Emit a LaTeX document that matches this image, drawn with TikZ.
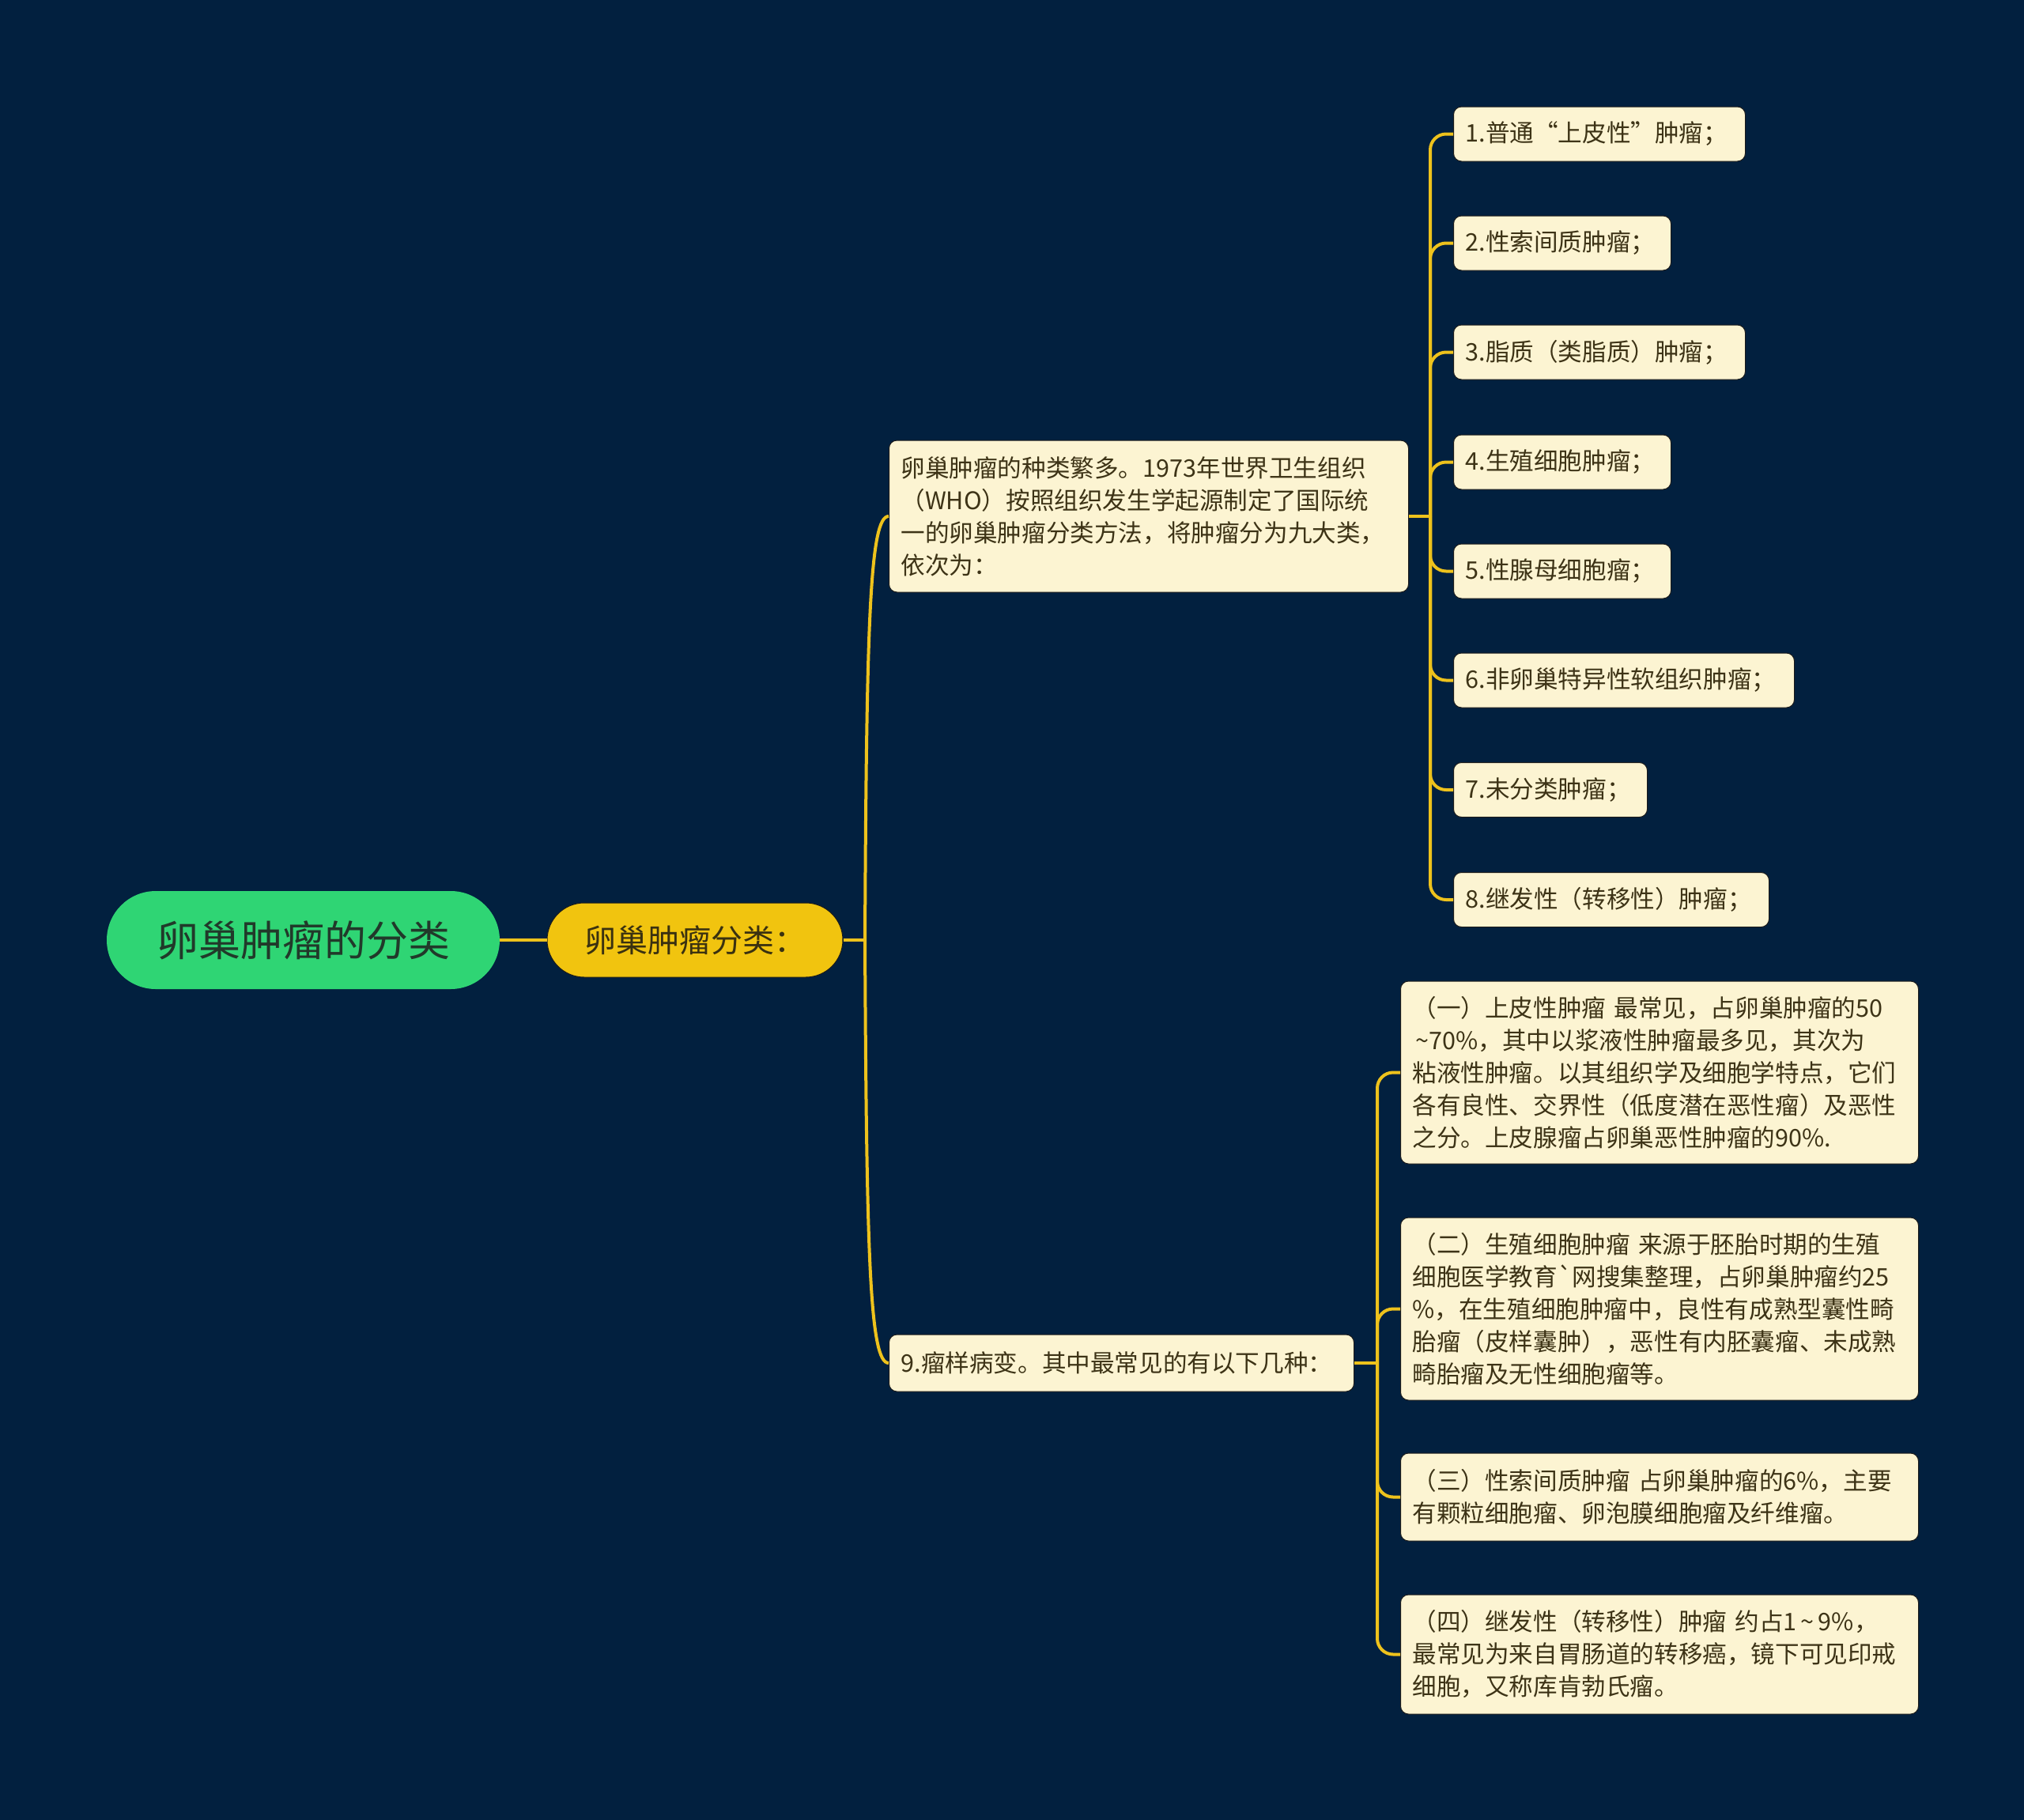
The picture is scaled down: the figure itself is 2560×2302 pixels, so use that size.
\documentclass[tikz,border=0pt]{standalone}
\usepackage{fontspec}
\setmainfont{Noto Sans CJK SC}
\newfontfamily\plainfont{Noto Sans CJK SC}
\definecolor{bg}{HTML}{02203F}
\definecolor{rootgreen}{HTML}{2FD574}
\definecolor{midyellow}{HTML}{F1C40F}
\definecolor{linecol}{HTML}{EEC21C}
\definecolor{cream}{HTML}{FCF4D2}
\definecolor{boxtext}{HTML}{3D3316}
\definecolor{roottext}{HTML}{21392A}
\definecolor{midtext}{HTML}{3A3110}
\definecolor{boxedge}{HTML}{1A1A1A}
\begin{document}
\begin{tikzpicture}[x=0.5pt,y=-0.5pt,
  conn/.style={draw=linecol,line width=2pt,rounded corners=10pt},
  rootnode/.style={fill=rootgreen,rounded corners=31pt,minimum width=248.5pt,minimum height=62pt,
    text=roottext,font=\fontsize{26.5}{30}\selectfont,inner sep=0pt},
  midnode/.style={fill=midyellow,rounded corners=23.5pt,minimum width=187pt,minimum height=47pt,
    draw=boxedge,line width=0.5pt,text=midtext,font=\fontsize{20}{24}\selectfont,inner sep=0pt},
  infobox/.style={fill=cream,draw=boxedge,line width=0.5pt,rounded corners=5pt,anchor=west,
    text=boxtext,font=\fontsize{15.3}{20.5}\selectfont,align=left,inner xsep=7.5pt,inner ysep=0pt}
]
\fill[bg] (0,0) rectangle (2560,2302);
\useasboundingbox (0,0) rectangle (2560,2302);

% main nodes
\node[rootnode] (root) at (383.5,1189) {卵巢肿瘤的分类};
\node[midnode] (mid) at (879,1189) {卵巢肿瘤分类：};

% level 2
\node[infobox,text width=313.5pt,minimum height=96pt] (a) at (1124,653)
  {卵巢肿瘤的种类繁多。1973年世界卫生组织\\（WHO）按照组织发生学起源制定了国际统\\一的卵巢肿瘤分类方法，将肿瘤分为九大类，\\依次为：};
\node[infobox,text width=279pt,minimum height=36pt] (n9) at (1124,1724)
  {9.瘤样病变。其中最常见的有以下几种：};

% leaves of a
\node[infobox,text width=169.5pt,minimum height=34.5pt] (l1) at (1838,169.5) {1.普通“上皮性”肿瘤；};
\node[infobox,text width=122.5pt,minimum height=34.5pt] (l2) at (1838,307.5) {2.性索间质肿瘤；};
\node[infobox,text width=169.5pt,minimum height=34.5pt] (l3) at (1838,445.5) {3.脂质（类脂质）肿瘤；};
\node[infobox,text width=122.5pt,minimum height=34.5pt] (l4) at (1838,584.5) {4.生殖细胞肿瘤；};
\node[infobox,text width=122.5pt,minimum height=34.5pt] (l5) at (1838,722.5) {5.性腺母细胞瘤；};
\node[infobox,text width=200.5pt,minimum height=34.5pt] (l6) at (1838,860.5) {6.非卵巢特异性软组织肿瘤；};
\node[infobox,text width=107.5pt,minimum height=34.5pt] (l7) at (1838,999) {7.未分类肿瘤；};
\node[infobox,text width=184.5pt,minimum height=34.5pt] (l8) at (1838,1138) {8.继发性（转移性）肿瘤；};

% leaves of 9
\node[infobox,text width=312.5pt,minimum height=115.5pt] (s1) at (1771,1356.5)
  {（一）上皮性肿瘤 最常见，占卵巢肿瘤的50\\\hspace{2pt}\textasciitilde 70\%，其中以浆液性肿瘤最多见，其次为\\粘液性肿瘤。以其组织学及细胞学特点，它们\\各有良性、交界性（低度潜在恶性瘤）及恶性\\之分。上皮腺瘤占卵巢恶性肿瘤的90\%.};
\node[infobox,text width=312.5pt,minimum height=115.5pt] (s2) at (1771,1655.5)
  {（二）生殖细胞肿瘤 来源于胚胎时期的生殖\\细胞医学教育{\plainfont\symbol{96}}网搜集整理，占卵巢肿瘤约25\\\%，在生殖细胞肿瘤中，良性有成熟型囊性畸\\胎瘤（皮样囊肿），恶性有内胚囊瘤、未成熟\\畸胎瘤及无性细胞瘤等。};
\node[infobox,text width=312.5pt,minimum height=55.5pt] (s3) at (1771,1893.5)
  {（三）性索间质肿瘤 占卵巢肿瘤的6\%，主要\\有颗粒细胞瘤、卵泡膜细胞瘤及纤维瘤。};
\node[infobox,text width=312.5pt,minimum height=75.5pt] (s4) at (1771,2092.5)
  {（四）继发性（转移性）肿瘤 约占1\,\textasciitilde\,9\%，\\最常见为来自胃肠道的转移癌，镜下可见印戒\\细胞，又称库肯勃氏瘤。};

% connectors
\coordinate (j) at (1094,1189);
\coordinate (ja) at (1809,653);
\coordinate (jb) at (1742,1724);
\draw[conn] (root.east) -- (mid.west);
\draw[conn] (mid.east) -- (j);
\draw[conn,rounded corners=0pt] (j) .. controls (1096,787) and (1100,653) .. (a.west);
\draw[conn,rounded corners=0pt] (j) .. controls (1096,1590) and (1100,1724) .. (n9.west);
\draw[conn] (a.east) -- (ja);
\foreach \n in {l1,l2,l3,l4,l5,l6,l7,l8} \draw[conn] (ja) |- (\n.west);
\draw[conn] (n9.east) -- (jb);
\foreach \n in {s1,s2,s3,s4} \draw[conn] (jb) |- (\n.west);
\end{tikzpicture}
\end{document}
